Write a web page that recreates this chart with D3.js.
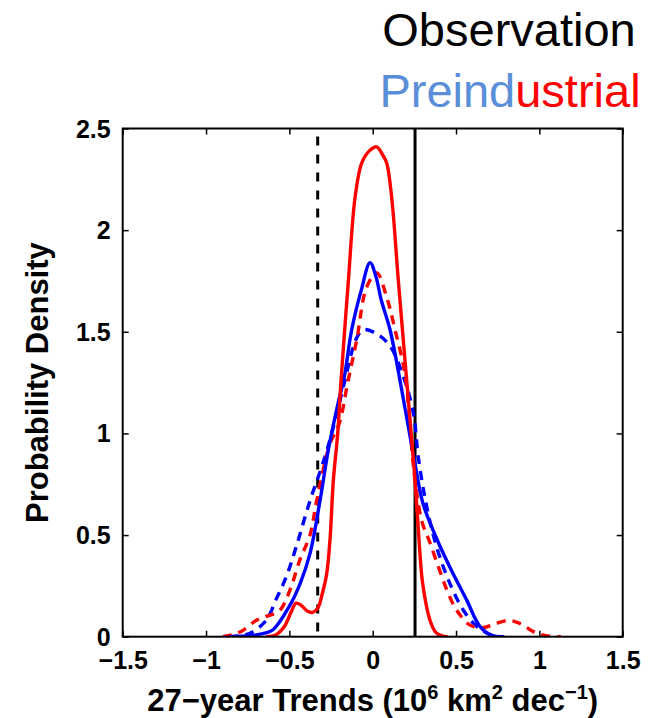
<!DOCTYPE html>
<html>
<head>
<meta charset="utf-8">
<script src="https://cdn.jsdelivr.net/npm/d3@7"></script>
<style>
  html, body { margin: 0; padding: 0; background: #fff; }
  svg { display: block; }
  text { font-family: "Liberation Sans", Arial, Helvetica, sans-serif; }
</style>
</head>
<body>
<svg id="chart" width="658" height="718"></svg>
<script>
// ---- Data ----
const xTicks = [-1.5, -1, -0.5, 0, 0.5, 1, 1.5];
const yTicks = [0, 0.5, 1, 1.5, 2, 2.5];
const xTickLabels = ["\u22121.5", "\u22121", "\u22120.5", "0", "0.5", "1", "1.5"];
const yTickLabels = ["0", "0.5", "1", "1.5", "2", "2.5"];

const obsSolidX = 0.254;   // solid black vertical line
const obsDashedX = -0.33;  // dashed black vertical line

// red solid
const redSolidX = [-0.64, -0.58, -0.53, -0.49, -0.46, -0.43, -0.39, -0.36, -0.33, -0.30, -0.276, -0.256, -0.236, -0.21, -0.19, -0.146, -0.106, -0.066, -0.02, 0.024, 0.06, 0.084, 0.114, 0.154, 0.204, 0.254, 0.28, 0.30, 0.344, 0.38, 0.42, 0.45];
const redSolidY = [0, 0.01, 0.05, 0.12, 0.165, 0.155, 0.125, 0.12, 0.14, 0.22, 0.31, 0.48, 0.77, 1.0, 1.26, 1.75, 2.16, 2.33, 2.39, 2.41, 2.37, 2.33, 2.16, 1.75, 1.26, 0.77, 0.45, 0.26, 0.08, 0.02, 0.003, 0];

// blue solid
const blueSolidX = [-0.86, -0.74, -0.66, -0.6, -0.5, -0.436, -0.376, -0.316, -0.266, -0.21, -0.17, -0.126, -0.07, -0.016, 0.02, 0.05, 0.104, 0.164, 0.21, 0.254, 0.30, 0.364, 0.464, 0.564, 0.644, 0.72, 0.79];
const blueSolidY = [0, 0.005, 0.015, 0.033, 0.15, 0.26, 0.41, 0.67, 0.92, 1.14, 1.28, 1.51, 1.70, 1.84, 1.77, 1.66, 1.51, 1.26, 1.05, 0.85, 0.66, 0.52, 0.34, 0.18, 0.05, 0.005, 0];

// red dashed
const redDashX = [-0.9, -0.84, -0.78, -0.7, -0.64, -0.6, -0.556, -0.496, -0.436, -0.376, -0.336, -0.256, -0.2, -0.15, -0.096, -0.036, 0.024, 0.084, 0.134, 0.194, 0.234, 0.254, 0.294, 0.34, 0.40, 0.45, 0.504, 0.584, 0.664, 0.74, 0.82, 0.884, 0.964, 1.04, 1.13];
const redDashY = [0, 0.01, 0.03, 0.08, 0.1, 0.11, 0.13, 0.23, 0.38, 0.5, 0.67, 0.95, 1.05, 1.25, 1.46, 1.72, 1.79, 1.67, 1.51, 1.29, 0.93, 0.77, 0.57, 0.47, 0.33, 0.22, 0.13, 0.057, 0.045, 0.065, 0.08, 0.065, 0.025, 0.005, 0];

// blue dashed
const blueDashX = [-0.86, -0.74, -0.64, -0.576, -0.516, -0.456, -0.376, -0.296, -0.236, -0.176, -0.096, -0.056, 0.024, 0.104, 0.184, 0.244, 0.274, 0.324, 0.384, 0.464, 0.544, 0.624, 0.684, 0.74];
const blueDashY = [0, 0.015, 0.08, 0.19, 0.3, 0.45, 0.67, 0.86, 1.03, 1.23, 1.47, 1.51, 1.49, 1.43, 1.28, 1.1, 0.88, 0.64, 0.44, 0.26, 0.13, 0.05, 0.018, 0];

// ---- Layout ----
const svg = d3.select("#chart");
const L = 122.7, R = 622.7, T = 128.5, B = 636.7;
const x = d3.scaleLinear().domain([-1.5, 1.5]).range([L, R]);
const y = d3.scaleLinear().domain([0, 2.5]).range([B, T]);

svg.append("defs").append("clipPath").attr("id", "clip")
  .append("rect").attr("x", L).attr("y", T).attr("width", R - L).attr("height", B - T);

const plot = svg.append("g").attr("clip-path", "url(#clip)");

const line = d3.line().x(d => x(d[0])).y(d => y(d[1])).curve(d3.curveCatmullRom.alpha(0.5));
const zip = (a, b) => a.map((v, i) => [v, b[i]]);

const series = [
  { xs: blueDashX, ys: blueDashY, color: "#0000ff", dash: "9,7" },
  { xs: redDashX, ys: redDashY, color: "#ff0000", dash: "9,7" },
  { xs: blueSolidX, ys: blueSolidY, color: "#0000ff", dash: null },
  { xs: redSolidX, ys: redSolidY, color: "#ff0000", dash: null }
];

// vertical observation lines
plot.append("line")
  .attr("x1", x(obsDashedX)).attr("x2", x(obsDashedX))
  .attr("y1", T).attr("y2", B)
  .attr("stroke", "#000").attr("stroke-width", 3)
  .attr("stroke-dasharray", "9,9").attr("stroke-dashoffset", -8);
plot.append("line")
  .attr("x1", x(obsSolidX)).attr("x2", x(obsSolidX))
  .attr("y1", T).attr("y2", B)
  .attr("stroke", "#000").attr("stroke-width", 3);

series.forEach(s => {
  plot.append("path")
    .datum(zip(s.xs, s.ys))
    .attr("d", line)
    .attr("fill", "none")
    .attr("stroke", s.color)
    .attr("stroke-width", 3.4)
    .attr("stroke-linejoin", "round")
    .attr("stroke-dasharray", s.dash);
});

// ---- Axes (ticks inward on all four sides) ----
const tickLen = 6;
const axB = svg.append("g").attr("transform", `translate(0,${B})`)
  .call(d3.axisBottom(x).tickValues(xTicks).tickSize(-tickLen).tickFormat((d, i) => xTickLabels[i]).tickPadding(15));
const axT = svg.append("g").attr("transform", `translate(0,${T})`)
  .call(d3.axisTop(x).tickValues(xTicks).tickSize(-tickLen).tickFormat(""));
const axL = svg.append("g").attr("transform", `translate(${L},0)`)
  .call(d3.axisLeft(y).tickValues(yTicks).tickSize(-tickLen).tickFormat((d, i) => yTickLabels[i]).tickPadding(12));
const axR = svg.append("g").attr("transform", `translate(${R},0)`)
  .call(d3.axisRight(y).tickValues(yTicks).tickSize(-tickLen).tickFormat(""));

[axB, axT, axL, axR].forEach(a => {
  a.select(".domain").remove();
  a.selectAll(".tick line").attr("stroke", "#000").attr("stroke-width", 1.5);
  a.selectAll(".tick text")
    .attr("fill", "#000")
    .style("font-family", '"Liberation Sans", Arial, sans-serif')
    .style("font-weight", "bold")
    .style("font-size", "25px");
});
axB.selectAll(".tick text").attr("dy", null).attr("y", 32);
axL.selectAll(".tick text").attr("dy", "0.34em");

// frame
svg.append("rect").attr("x", L).attr("y", T).attr("width", R - L).attr("height", B - T)
  .attr("fill", "none").attr("stroke", "#000").attr("stroke-width", 2);

// ---- Axis titles ----
const xt = svg.append("text")
  .attr("x", (L + R) / 2).attr("y", 711)
  .attr("text-anchor", "middle")
  .style("font-weight", "bold").style("font-size", "31px").attr("fill", "#000");
xt.append("tspan").text("27\u2212year Trends (10");
xt.append("tspan").text("6").attr("dy", -12).style("font-size", "20px");
xt.append("tspan").text(" km").attr("dy", 12);
xt.append("tspan").text("2").attr("dy", -12).style("font-size", "20px");
xt.append("tspan").text(" dec").attr("dy", 12);
xt.append("tspan").text("\u22121").attr("dy", -12).style("font-size", "20px");
xt.append("tspan").text(")").attr("dy", 12);

svg.append("text")
  .attr("transform", `translate(48,${(T + B) / 2}) rotate(-90)`)
  .attr("text-anchor", "middle")
  .style("font-weight", "bold").style("font-size", "31px").attr("fill", "#000")
  .text("Probability Density");

// ---- Legend-like titles ----
svg.append("text")
  .attr("x", 509).attr("y", 46).attr("text-anchor", "middle")
  .style("font-size", "47px").attr("fill", "#000")
  .text("Observation");
const pt = svg.append("text")
  .attr("x", 510).attr("y", 107).attr("text-anchor", "middle")
  .style("font-size", "47px");
pt.append("tspan").text("Preind").attr("fill", "#5b8ed8");
pt.append("tspan").text("ustrial").attr("fill", "#ff0000");
</script>
</body>
</html>
